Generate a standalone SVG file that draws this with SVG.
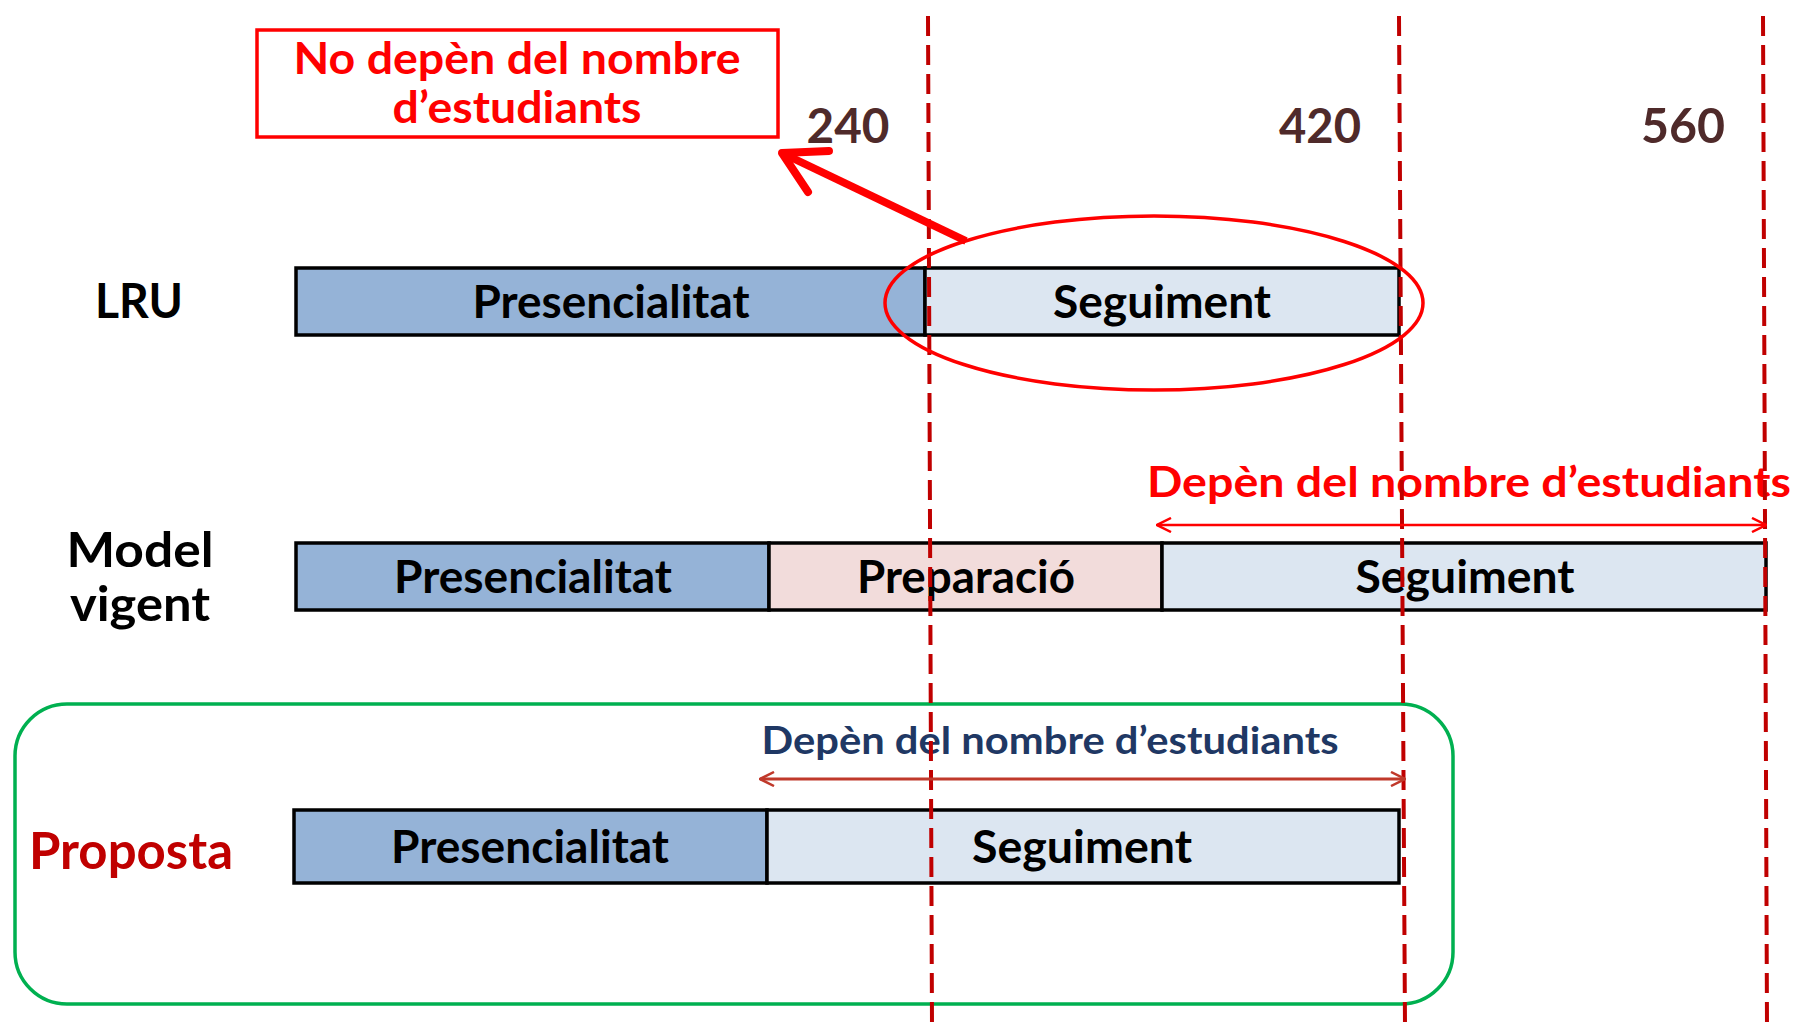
<svg xmlns="http://www.w3.org/2000/svg" width="1797" height="1027" viewBox="0 0 1797 1027">
<style>
text{font-family:Lato,"Open Sans","Liberation Sans",sans-serif;font-weight:bold;}
.bar{stroke:#000;stroke-width:3.5;}
.pres{fill:#95b3d7;}
.seg{fill:#dce6f1;}
.prep{fill:#f2dcdb;}
.bt{font-size:45px;fill:#000;text-anchor:middle;}
.lab{font-size:48px;fill:#000;text-anchor:middle;}
.num{font-size:48px;fill:#4f2a2a;text-anchor:middle;}
.dash{stroke:#c00000;stroke-width:4;stroke-dasharray:20 9;fill:none;}
</style>
<defs>
<marker id="openR" viewBox="0 0 16 16" refX="15" refY="8" markerWidth="16" markerHeight="16" markerUnits="userSpaceOnUse" orient="auto-start-reverse">
<path d="M1,1 L15,8 L1,15" fill="none" stroke="#ff0000" stroke-width="2.5"/>
</marker>
<marker id="openB" viewBox="0 0 16 16" refX="15" refY="8" markerWidth="16" markerHeight="16" markerUnits="userSpaceOnUse" orient="auto-start-reverse">
<path d="M1,1 L15,8 L1,15" fill="none" stroke="#c0392b" stroke-width="2.5"/>
</marker>
</defs>

<g id="note">
<rect x="257" y="30" width="521" height="107" fill="#fff" stroke="#ff0000" stroke-width="3.5"/>
<text x="517" y="74" font-size="44" fill="#ff0000" text-anchor="middle" textLength="447" lengthAdjust="spacingAndGlyphs">No depèn del nombre</text>
<text x="517" y="123" font-size="44" fill="#ff0000" text-anchor="middle" textLength="249" lengthAdjust="spacingAndGlyphs">d’estudiants</text>
</g>

<g id="scale">
<text class="num" x="848" y="143" textLength="83" lengthAdjust="spacingAndGlyphs">240</text>
<text class="num" x="1320" y="143" textLength="82" lengthAdjust="spacingAndGlyphs">420</text>
<text class="num" x="1683" y="143" textLength="84" lengthAdjust="spacingAndGlyphs">560</text>
</g>

<g id="lru">
<text class="lab" x="139" y="318" textLength="88" lengthAdjust="spacingAndGlyphs">LRU</text>
<rect class="bar pres" x="296" y="268" width="629" height="67"/>
<rect class="bar seg" x="925" y="268" width="474" height="67"/>
<text class="bt" x="611" y="318" textLength="277" lengthAdjust="spacingAndGlyphs">Presencialitat</text>
<text class="bt" x="1162" y="318" textLength="218" lengthAdjust="spacingAndGlyphs">Seguiment</text>
</g>

<g id="model-vigent">
<text class="lab" x="140" y="567" textLength="147" lengthAdjust="spacingAndGlyphs">Model</text>
<text class="lab" x="140" y="621" textLength="140" lengthAdjust="spacingAndGlyphs">vigent</text>
<rect class="bar pres" x="296" y="543" width="473" height="67"/>
<rect class="bar prep" x="769" y="543" width="393" height="67"/>
<rect class="bar seg" x="1162" y="543" width="604" height="67"/>
<text class="bt" x="533" y="593" textLength="278" lengthAdjust="spacingAndGlyphs">Presencialitat</text>
<text class="bt" x="966" y="593" textLength="218" lengthAdjust="spacingAndGlyphs">Preparació</text>
<text class="bt" x="1465" y="593" textLength="219" lengthAdjust="spacingAndGlyphs">Seguiment</text>
<text x="1469" y="497" font-size="42" fill="#ff0000" text-anchor="middle" textLength="644" lengthAdjust="spacingAndGlyphs">Depèn del nombre d’estudiants</text>
</g>

<g id="proposta">
<rect x="15" y="704" width="1438" height="300" rx="52" ry="52" fill="none" stroke="#00b050" stroke-width="3.5"/>
<text x="131" y="869" font-size="52" fill="#c00000" text-anchor="middle" textLength="204" lengthAdjust="spacingAndGlyphs">Proposta</text>
<rect class="bar pres" x="294" y="810" width="473" height="73"/>
<rect class="bar seg" x="767" y="810" width="632" height="73"/>
<text class="bt" x="530" y="863" textLength="278" lengthAdjust="spacingAndGlyphs">Presencialitat</text>
<text class="bt" x="1082" y="863" textLength="220" lengthAdjust="spacingAndGlyphs">Seguiment</text>
<text x="1050" y="754" font-size="38" fill="#1f3864" text-anchor="middle" textLength="577" lengthAdjust="spacingAndGlyphs">Depèn del nombre d’estudiants</text>
</g>

<g id="connectors">
<line class="dash" x1="928" y1="16" x2="932" y2="1027"/>
<line class="dash" x1="1399" y1="16" x2="1405" y2="1027"/>
<line class="dash" x1="1763" y1="16" x2="1767" y2="1027"/>
<ellipse cx="1154" cy="303" rx="269" ry="87" fill="none" stroke="#ff0000" stroke-width="3.5"/>
<line x1="966" y1="241" x2="784" y2="154" stroke="#ff0000" stroke-width="7.5"/>
<polyline points="829,151 782,153 808,192" fill="none" stroke="#ff0000" stroke-width="8" stroke-linecap="round" stroke-linejoin="round"/>
<line x1="1157" y1="525" x2="1766" y2="525" stroke="#ff0000" stroke-width="2.5" marker-start="url(#openR)" marker-end="url(#openR)"/>
<line x1="760" y1="779" x2="1405" y2="779" stroke="#c0392b" stroke-width="3" marker-start="url(#openB)" marker-end="url(#openB)"/>
</g>
</svg>
